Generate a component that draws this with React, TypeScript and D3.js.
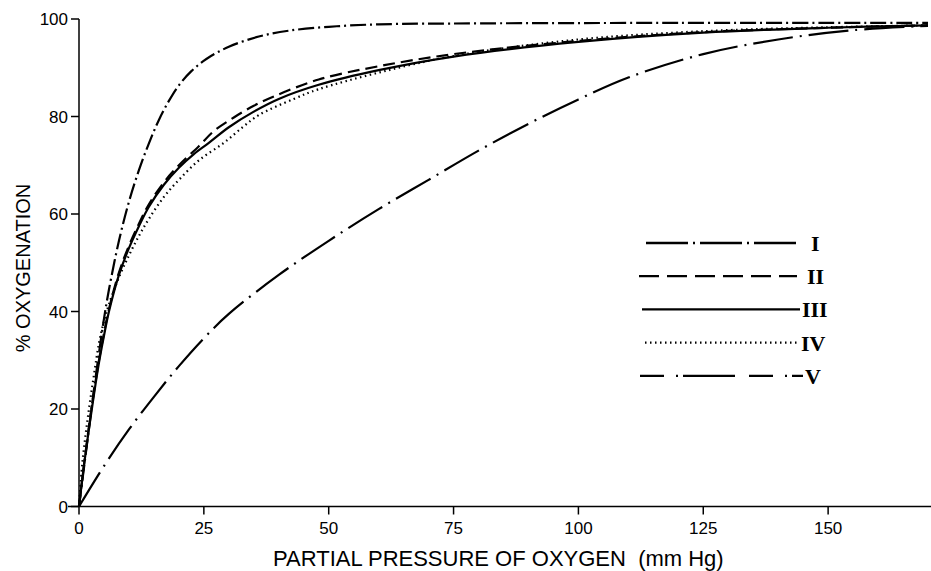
import React from 'react';
import * as d3 from 'd3';

// ---- data ----
const xTicks = [0, 25, 50, 75, 100, 125, 150];
const yTicks = [0, 20, 40, 60, 80, 100];
const seriesNames = ['I', 'II', 'III', 'IV', 'V'];
const xTitle = 'PARTIAL PRESSURE OF OXYGEN  (mm Hg)';
const yTitle = '% OXYGENATION';

const curveI: [number, number][] = [
  [0, 0], [1, 8], [2, 16], [3, 24], [4, 31.5], [5, 38.5], [6, 44.5], [8, 54.5], [10, 62.5],
  [12, 69], [14, 74.5], [16, 79.3], [18, 83.2], [20, 86.4], [22.5, 89.3], [25.5, 91.8],
  [30, 94.3], [36, 96.4], [42, 97.6], [50, 98.4], [60, 98.9], [80, 99.1], [120, 99.2], [170, 99.2],
];
const curveII: [number, number][] = [
  [0, 0], [1, 8.5], [2, 16.5], [3, 23.5], [4, 30], [5, 35.5], [6, 40.5], [8, 48], [10, 53.5],
  [12, 58], [14, 62], [17, 66.5], [20, 70], [24, 73.9], [27, 77], [31, 79.8], [35, 82.2],
  [39, 84.1], [48, 87.6], [60, 90.3], [75, 92.8], [100, 95.5], [125, 97.3], [150, 98.2], [170, 98.7],
];
const curveIII: [number, number][] = [
  [0, 0], [1, 8.5], [2, 16], [3, 23], [4, 29.5], [5, 35], [6, 40], [8, 47.5], [10, 53],
  [12, 57.5], [14, 61.5], [17, 66], [20, 69.5], [23, 72.3], [26, 74.6], [30, 77.8], [35, 81],
  [40, 83.6], [48, 86.5], [60, 89.5], [75, 92.3], [100, 95.3], [125, 97.2], [150, 98.2], [170, 98.7],
];
const curveIV: [number, number][] = [
  [0, 0], [0.5, 7], [1, 12], [2, 20], [3, 27], [4, 33.5], [5, 38], [6, 41.5], [8, 47],
  [10, 51.5], [12, 55.5], [14, 59], [17, 63.5], [20, 67], [24, 71], [29, 74.6], [33, 78],
  [36, 80.3], [43, 83.6], [48, 85.6], [60, 89], [75, 92.4], [100, 95.8], [125, 97.5],
  [150, 98.3], [170, 98.7],
];
const curveV: [number, number][] = [
  [0, 0], [5, 8.3], [10, 15.8], [15, 22.5], [20, 28.8], [25, 34.5], [30, 39.5], [40, 47.5],
  [50, 54.5], [60, 61], [70, 67], [80, 73], [90, 78.5], [100, 83.5], [110, 88], [125, 92.8],
  [140, 95.8], [155, 97.7], [170, 98.6],
];
const allSeries = [curveI, curveII, curveIII, curveIV, curveV];

// ---- styles ----
const curveDash = ['16 4 2 4', '12 6', '', '1.5 3.5', '40 7 2 7'];
const legendDash = ['42 5 2 5', '20 8', '', '1.5 3.5', '24 12 2 5 52 14'];

const W = 931;
const H = 571;

export default function App() {
  const x = d3.scaleLinear().domain([0, 170]).range([79, 928]);
  const y = d3.scaleLinear().domain([0, 100]).range([506.5, 19]);
  const line = d3
    .line<[number, number]>()
    .x((d) => x(d[0]))
    .y((d) => y(d[1]))
    .curve(d3.curveCatmullRom.alpha(0.5));

  const sans = 'Liberation Sans, Arial, Helvetica, sans-serif';
  const serif = 'Liberation Serif, Times New Roman, serif';

  const legendLineStart = [646, 639, 642, 645, 640];
  const legendLineEnd = [797, 797, 800, 800, 803];
  const legendLabelX = [811, 807, 802, 801, 805];

  return (
    <svg
      width={W}
      height={H}
      style={{ position: 'absolute', left: 0, top: 0, background: '#fff' }}
    >
      {allSeries.map((s, i) => (
        <path
          key={i}
          d={line(s) || ''}
          fill="none"
          stroke="#000"
          strokeWidth={2.2}
          strokeDasharray={curveDash[i] || undefined}
        />
      ))}

      {/* y axis */}
      <line x1={x(0)} x2={x(0)} y1={y(100)} y2={y(0)} stroke="#000" strokeWidth={1.5} />
      {yTicks.map((t) => (
        <g key={t}>
          <line x1={x(0) - 8} x2={x(0)} y1={y(t)} y2={y(t)} stroke="#000" strokeWidth={1.5} />
          <text
            x={x(0) - 11}
            y={y(t)}
            dy="0.36em"
            textAnchor="end"
            fontFamily={sans}
            fontSize={17}
          >
            {t}
          </text>
        </g>
      ))}

      {/* x axis */}
      <line x1={x(0) - 11} x2={W} y1={y(0)} y2={y(0)} stroke="#000" strokeWidth={1.5} />
      {xTicks.map((t) => (
        <g key={t}>
          <line x1={x(t)} x2={x(t)} y1={y(0)} y2={y(0) + 8} stroke="#000" strokeWidth={1.5} />
          <text x={x(t)} y={y(0) + 27} textAnchor="middle" fontFamily={sans} fontSize={17}>
            {t}
          </text>
        </g>
      ))}

      {/* axis titles */}
      <text x={273} y={566} fontFamily={sans} fontSize={22} style={{ whiteSpace: 'pre' }}>
        {xTitle}
      </text>
      <text
        transform="translate(30, 268) rotate(-90)"
        textAnchor="middle"
        fontFamily={sans}
        fontSize={20}
      >
        {yTitle}
      </text>

      {/* legend */}
      {seriesNames.map((name, i) => {
        const yy = 243 + i * 33.2;
        return (
          <g key={name}>
            <line
              x1={legendLineStart[i]}
              x2={legendLineEnd[i]}
              y1={yy}
              y2={yy}
              stroke="#000"
              strokeWidth={2.3}
              strokeDasharray={legendDash[i] || undefined}
            />
            <text
              x={legendLabelX[i]}
              y={yy}
              dy="0.36em"
              fontFamily={serif}
              fontWeight="bold"
              fontSize={22}
            >
              {name}
            </text>
          </g>
        );
      })}
    </svg>
  );
}
